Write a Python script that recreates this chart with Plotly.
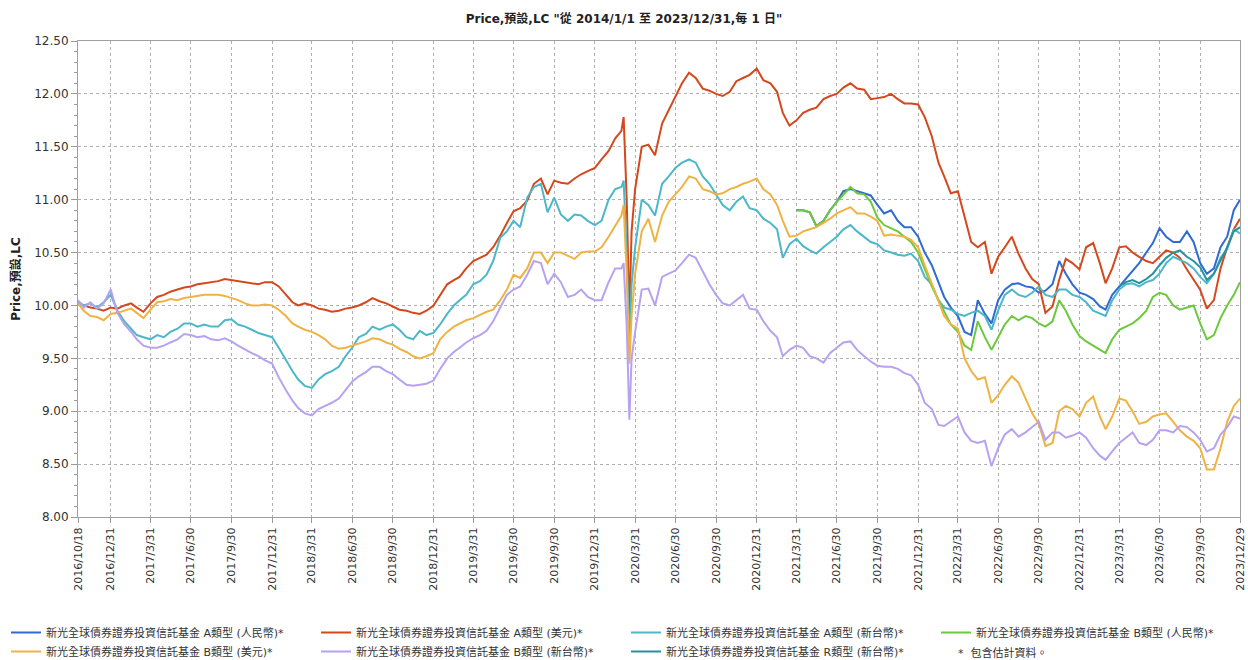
import plotly.graph_objects as go

# ---------------- data ----------------
dates = [
    "2016-10-18", "2016-10-31", "2016-11-15", "2016-11-30", "2016-12-15", "2016-12-31",
    "2017-01-15", "2017-01-31", "2017-02-15", "2017-02-28", "2017-03-15", "2017-03-31",
    "2017-04-15", "2017-04-30", "2017-05-15", "2017-05-31", "2017-06-15", "2017-06-30",
    "2017-07-15", "2017-07-31", "2017-08-15", "2017-08-31", "2017-09-15", "2017-09-30",
    "2017-10-15", "2017-10-31", "2017-11-15", "2017-11-30", "2017-12-15", "2017-12-31",
    "2018-01-15", "2018-01-31", "2018-02-15", "2018-02-28", "2018-03-15", "2018-03-31",
    "2018-04-15", "2018-04-30", "2018-05-15", "2018-05-31", "2018-06-15", "2018-06-30",
    "2018-07-15", "2018-07-31", "2018-08-15", "2018-08-31", "2018-09-15", "2018-09-30",
    "2018-10-15", "2018-10-31", "2018-11-15", "2018-11-30", "2018-12-15", "2018-12-31",
    "2019-01-15", "2019-01-31", "2019-02-15", "2019-02-28", "2019-03-15", "2019-03-31",
    "2019-04-15", "2019-04-30", "2019-05-15", "2019-05-31", "2019-06-15", "2019-06-30",
    "2019-07-15", "2019-07-31", "2019-08-15", "2019-08-31", "2019-09-15", "2019-09-30",
    "2019-10-15", "2019-10-31", "2019-11-15", "2019-11-30", "2019-12-15", "2019-12-31",
    "2020-01-15", "2020-01-31", "2020-02-15", "2020-02-29", "2020-03-05", "2020-03-12",
    "2020-03-18", "2020-03-23", "2020-03-31",
    "2020-04-15", "2020-04-30", "2020-05-15", "2020-05-31", "2020-06-15", "2020-06-30",
    "2020-07-15", "2020-07-31", "2020-08-15", "2020-08-31", "2020-09-15", "2020-09-30",
    "2020-10-15", "2020-10-31", "2020-11-15", "2020-11-30", "2020-12-15", "2020-12-31",
    "2021-01-15", "2021-01-31", "2021-02-15", "2021-02-28", "2021-03-15", "2021-03-31",
    "2021-04-15", "2021-04-30", "2021-05-15", "2021-05-31", "2021-06-15", "2021-06-30",
    "2021-07-15", "2021-07-31", "2021-08-15", "2021-08-31", "2021-09-15", "2021-09-30",
    "2021-10-15", "2021-10-31", "2021-11-15", "2021-11-30", "2021-12-15", "2021-12-31",
    "2022-01-15", "2022-01-31", "2022-02-15", "2022-02-28", "2022-03-15", "2022-03-31",
    "2022-04-15", "2022-04-30", "2022-05-15", "2022-05-31", "2022-06-15", "2022-06-30",
    "2022-07-15", "2022-07-31", "2022-08-15", "2022-08-31", "2022-09-15", "2022-09-30",
    "2022-10-15", "2022-10-31", "2022-11-15", "2022-11-30", "2022-12-15", "2022-12-31",
    "2023-01-15", "2023-01-31", "2023-02-15", "2023-02-28", "2023-03-15", "2023-03-31",
    "2023-04-15", "2023-04-30", "2023-05-15", "2023-05-31", "2023-06-15", "2023-06-30",
    "2023-07-15", "2023-07-31", "2023-08-15", "2023-08-31", "2023-09-15", "2023-09-30",
    "2023-10-15", "2023-10-31", "2023-11-15", "2023-11-30", "2023-12-15", "2023-12-29",
]

# A類型 (美元)
a_usd = [
    10.02, 10.00, 9.98, 9.97, 9.95, 9.98,
    9.97, 10.00, 10.02, 9.98, 9.94, 10.02, 10.08, 10.10, 10.13, 10.15, 10.17, 10.18,
    10.20, 10.21, 10.22, 10.23, 10.25, 10.24, 10.23, 10.22, 10.21, 10.20, 10.22, 10.22,
    10.18, 10.10, 10.03, 10.00, 10.02, 10.00, 9.97, 9.96, 9.94, 9.95, 9.97, 9.98,
    10.00, 10.03, 10.07, 10.04, 10.02, 9.99, 9.96, 9.95, 9.93, 9.92, 9.95, 10.00,
    10.10, 10.20, 10.24, 10.27, 10.35, 10.42, 10.45, 10.48, 10.55, 10.66, 10.78, 10.89,
    10.92, 10.99, 11.15, 11.20, 11.05, 11.18, 11.16, 11.15, 11.20, 11.24, 11.27, 11.30,
    11.38, 11.46, 11.58, 11.65, 11.78, 11.00, 9.90, 10.70, 11.10,
    11.50, 11.52, 11.42, 11.72, 11.85, 11.98, 12.10, 12.20, 12.15, 12.05, 12.03, 12.00,
    11.98, 12.02, 12.12, 12.15, 12.18, 12.24,
    12.13, 12.10, 12.02, 11.82, 11.70, 11.75, 11.82, 11.85, 11.87, 11.95, 11.98, 12.00,
    12.06, 12.10, 12.05, 12.04, 11.95, 11.96, 11.97, 12.00, 11.95, 11.91, 11.91, 11.90,
    11.78, 11.60, 11.35, 11.22, 11.06, 11.08, 10.85, 10.60, 10.55, 10.60, 10.30, 10.46,
    10.55, 10.65, 10.49, 10.35, 10.25, 10.20, 9.93, 9.99, 10.24, 10.44, 10.40, 10.34,
    10.55, 10.59, 10.40, 10.21, 10.35, 10.55, 10.56, 10.50, 10.46, 10.42, 10.40, 10.46,
    10.52, 10.50, 10.45, 10.34, 10.25, 10.15, 9.97, 10.05, 10.35, 10.55, 10.72, 10.82,
]

# B類型 (美元)
b_usd = [
    10.02, 9.95, 9.90, 9.89, 9.86, 9.92,
    9.93, 9.95, 9.97, 9.93, 9.88, 9.96, 10.03, 10.04, 10.06, 10.05, 10.07, 10.08,
    10.09, 10.10, 10.10, 10.10, 10.09, 10.07, 10.05, 10.02, 10.00, 10.00, 10.01, 10.00,
    9.96, 9.90, 9.83, 9.80, 9.77, 9.75, 9.72, 9.68, 9.62, 9.59, 9.60, 9.62,
    9.64, 9.66, 9.69, 9.68, 9.65, 9.63, 9.59, 9.56, 9.52, 9.50, 9.52, 9.55,
    9.68, 9.75, 9.80, 9.83, 9.86, 9.88, 9.91, 9.94, 9.96, 10.05, 10.15, 10.29,
    10.26, 10.35, 10.50, 10.50, 10.40, 10.50, 10.50, 10.47, 10.44, 10.50, 10.51, 10.51,
    10.55, 10.65, 10.75, 10.85, 10.95, 10.30, 9.45, 9.90, 10.30,
    10.70, 10.82, 10.60, 10.85, 10.98, 11.05, 11.12, 11.22, 11.20, 11.10, 11.08, 11.05,
    11.06, 11.10, 11.12, 11.15, 11.17, 11.20,
    11.10, 11.05, 10.95, 10.80, 10.65, 10.66, 10.70, 10.72, 10.74, 10.78, 10.82, 10.87,
    10.90, 10.93, 10.87, 10.87, 10.84, 10.80, 10.66, 10.67, 10.66, 10.65, 10.62, 10.55,
    10.38, 10.20, 10.05, 9.90, 9.82, 9.78, 9.50, 9.38, 9.30, 9.32, 9.08, 9.15,
    9.25, 9.33, 9.27, 9.12, 8.98, 8.88, 8.67, 8.70, 9.00, 9.05, 9.02, 8.95,
    9.08, 9.14, 8.95, 8.83, 8.95, 9.12, 9.10, 9.00, 8.88, 8.90, 8.95, 8.97,
    8.98, 8.90, 8.82, 8.76, 8.72, 8.65, 8.45, 8.45, 8.65, 8.90, 9.05, 9.12,
]

# A類型 (新台幣)
a_twd = [
    10.04, 10.00, 10.02, 9.98, 10.03, 10.10,
    9.95, 9.85, 9.78, 9.72, 9.70, 9.68, 9.72, 9.70, 9.75, 9.78, 9.83, 9.83,
    9.80, 9.82, 9.80, 9.80, 9.86, 9.87, 9.82, 9.80, 9.77, 9.74, 9.72, 9.70,
    9.60, 9.48, 9.38, 9.30, 9.24, 9.22, 9.30, 9.35, 9.38, 9.42, 9.52, 9.60,
    9.70, 9.73, 9.80, 9.77, 9.80, 9.82, 9.77, 9.70, 9.68, 9.76, 9.72, 9.74,
    9.82, 9.92, 10.00, 10.05, 10.10, 10.20, 10.23, 10.29, 10.42, 10.64, 10.70, 10.80,
    10.74, 11.02, 11.12, 11.15, 10.88, 11.02, 10.86, 10.80, 10.86, 10.85, 10.80, 10.76,
    10.80, 11.00, 11.10, 11.12, 11.18, 10.50, 9.60, 10.20, 10.55,
    11.00, 10.95, 10.85, 11.15, 11.22, 11.30, 11.35, 11.38, 11.35, 11.22, 11.15, 11.05,
    10.95, 10.90, 10.98, 11.03, 10.92, 10.90,
    10.82, 10.78, 10.72, 10.45, 10.58, 10.63, 10.56, 10.52, 10.49, 10.55, 10.60, 10.65,
    10.72, 10.76, 10.70, 10.65, 10.60, 10.58, 10.52, 10.50, 10.48, 10.47, 10.49, 10.42,
    10.27, 10.20, 10.05, 9.98, 9.96, 9.92, 9.90, 9.93, 9.95, 9.90, 9.77, 9.95,
    10.10, 10.15, 10.10, 10.08, 10.12, 10.18, 10.10, 10.08, 10.15, 10.15, 10.10, 10.08,
    10.03, 9.95, 9.92, 9.90, 10.05, 10.15, 10.20, 10.21, 10.18, 10.22, 10.24, 10.30,
    10.40, 10.46, 10.43, 10.40, 10.35, 10.27, 10.21, 10.30, 10.45, 10.53, 10.72, 10.68,
]

# B類型 (新台幣)
b_twd = [
    10.05, 9.98, 10.03, 9.97, 10.02, 10.15,
    9.93, 9.82, 9.75, 9.68, 9.62, 9.60, 9.60, 9.62, 9.65, 9.68, 9.73, 9.72,
    9.70, 9.71, 9.68, 9.67, 9.69, 9.66, 9.62, 9.58, 9.55, 9.52, 9.48, 9.45,
    9.32, 9.20, 9.10, 9.03, 8.98, 8.96, 9.02, 9.05, 9.08, 9.12, 9.20, 9.28,
    9.33, 9.37, 9.42, 9.42, 9.38, 9.35, 9.30, 9.25, 9.24, 9.25, 9.26, 9.29,
    9.40, 9.50, 9.56, 9.60, 9.65, 9.69, 9.72, 9.76, 9.85, 9.98, 10.10, 10.15,
    10.18, 10.29, 10.42, 10.40, 10.20, 10.30, 10.22, 10.08, 10.10, 10.15, 10.08, 10.05,
    10.05, 10.22, 10.35, 10.35, 10.40, 9.80, 8.92, 9.50, 9.75,
    10.15, 10.16, 10.00, 10.27, 10.30, 10.33, 10.40, 10.48, 10.45, 10.32, 10.20, 10.10,
    10.02, 10.00, 10.05, 10.10, 9.97, 9.96,
    9.85, 9.76, 9.70, 9.52, 9.58, 9.62, 9.60, 9.52, 9.50, 9.46, 9.55, 9.60,
    9.65, 9.66, 9.58, 9.52, 9.47, 9.43, 9.42, 9.42, 9.40, 9.36, 9.34, 9.25,
    9.08, 9.02, 8.87, 8.86, 8.90, 8.95, 8.80, 8.72, 8.70, 8.72, 8.48, 8.65,
    8.78, 8.83, 8.76, 8.80, 8.85, 8.90, 8.73, 8.80, 8.80, 8.75, 8.77, 8.80,
    8.75, 8.65, 8.58, 8.54, 8.62, 8.70, 8.75, 8.80, 8.70, 8.68, 8.73, 8.82,
    8.82, 8.80, 8.86, 8.85, 8.80, 8.73, 8.62, 8.65, 8.78, 8.85, 8.95, 8.93,
]

# RMB classes start on 2021-03-31
rmb_start = "2021-03-31"
a_rmb = [
    10.90, 10.90, 10.88, 10.75, 10.80, 10.90, 10.98, 11.08, 11.10, 11.08, 11.06, 11.04,
    10.95, 10.87, 10.90, 10.80, 10.74, 10.74, 10.65,
    10.50, 10.38, 10.22, 10.08, 9.98, 9.90, 9.75, 9.72, 10.05, 9.92, 9.83, 10.05,
    10.15, 10.20, 10.21, 10.18, 10.17, 10.12, 10.14, 10.20, 10.42, 10.30, 10.20, 10.12,
    10.10, 10.06, 9.99, 9.96, 10.10, 10.18, 10.25, 10.32, 10.40, 10.50, 10.59, 10.73,
    10.65, 10.60, 10.60, 10.70, 10.60, 10.40, 10.30, 10.35, 10.55, 10.65, 10.90, 11.00,
]
b_rmb = [
    10.90, 10.90, 10.88, 10.75, 10.80, 10.90, 10.98, 11.05, 11.12, 11.06, 11.05, 10.98,
    10.83, 10.76, 10.73, 10.70, 10.65, 10.60, 10.50,
    10.35, 10.18, 10.05, 9.95, 9.82, 9.75, 9.62, 9.58, 9.85, 9.70, 9.58, 9.70,
    9.82, 9.90, 9.86, 9.90, 9.88, 9.83, 9.80, 9.85, 10.05, 9.95, 9.82, 9.71,
    9.66, 9.62, 9.58, 9.55, 9.68, 9.77, 9.80, 9.83, 9.88, 9.95, 10.08, 10.12,
    10.10, 10.00, 9.96, 9.98, 10.00, 9.83, 9.68, 9.72, 9.88, 10.00, 10.10, 10.22,
]

# R類型 (新台幣) starts on 2023-03-31
r_start = "2023-03-31"
r_twd = [
    10.18, 10.22, 10.24, 10.21, 10.25, 10.30, 10.38, 10.45, 10.50, 10.52, 10.46, 10.42,
    10.36, 10.24, 10.30, 10.42, 10.55, 10.70, 10.74,
]

fund = "新光全球債券證券投資信託基金"
names = [
    fund + " A類型 (人民幣)*",
    fund + " A類型 (美元)*",
    fund + " A類型 (新台幣)*",
    fund + " B類型 (人民幣)*",
    fund + " B類型 (美元)*",
    fund + " B類型 (新台幣)*",
    fund + " R類型 (新台幣)*",
]
colors = ["#2f6bd3", "#d4481c", "#4cb7c8", "#6cc83c", "#efb345", "#b7a2f1", "#24939f"]

tick_dates = [
    "2016-10-18", "2016-12-31", "2017-03-31", "2017-06-30", "2017-09-30", "2017-12-31",
    "2018-03-31", "2018-06-30", "2018-09-30", "2018-12-31", "2019-03-31", "2019-06-30",
    "2019-09-30", "2019-12-31", "2020-03-31", "2020-06-30", "2020-09-30", "2020-12-31",
    "2021-03-31", "2021-06-30", "2021-09-30", "2021-12-31", "2022-03-31", "2022-06-30",
    "2022-09-30", "2022-12-31", "2023-03-31", "2023-06-30", "2023-09-30", "2023-12-29",
]
tick_labels = [
    "2016/10/18", "2016/12/31", "2017/3/31", "2017/6/30", "2017/9/30", "2017/12/31",
    "2018/3/31", "2018/6/30", "2018/9/30", "2018/12/31", "2019/3/31", "2019/6/30",
    "2019/9/30", "2019/12/31", "2020/3/31", "2020/6/30", "2020/9/30", "2020/12/31",
    "2021/3/31", "2021/6/30", "2021/9/30", "2021/12/31", "2022/3/31", "2022/6/30",
    "2022/9/30", "2022/12/31", "2023/3/31", "2023/6/30", "2023/9/30", "2023/12/29",
]
y_ticks = [8.0, 8.5, 9.0, 9.5, 10.0, 10.5, 11.0, 11.5, 12.0, 12.5]

# ---------------- figure ----------------
rmb_dates = dates[dates.index(rmb_start):]
r_dates = dates[dates.index(r_start):]

series = [
    (rmb_dates, a_rmb),
    (dates, a_usd),
    (dates, a_twd),
    (rmb_dates, b_rmb),
    (dates, b_usd),
    (dates, b_twd),
    (r_dates, r_twd),
]

fig = go.Figure()
for (xs, ys), name, col in zip(series, names, colors):
    fig.add_trace(go.Scatter(
        x=xs, y=ys, name=name, mode="lines",
        line=dict(color=col, width=2),
    ))

FONT = "DejaVu Sans, Noto Sans CJK TC, sans-serif"

L, R, T, B = 78, 8, 41, 143
PW = 1248 - L - R
PH = 660 - T - B


def px_x(px):
    return (px - L) / PW


def px_y(py):
    return (660 - B - py) / PH


fig.update_layout(
    width=1248, height=660,
    margin=dict(l=L, r=R, t=T, b=B, autoexpand=False),
    paper_bgcolor="white", plot_bgcolor="white",
    font=dict(family=FONT, color="#333", size=11),
    title=dict(
        text='<b>Price,預設,LC "從 2014/1/1 至 2023/12/31,每 1 日"</b>',
        x=0.5, xanchor="center", xref="container",
        y=0.972, yanchor="middle", yref="container",
        font=dict(size=12, color="#222", family=FONT),
    ),
    showlegend=True,
    legend=dict(
        orientation="h",
        xref="paper", yref="paper",
        x=px_x(6), y=px_y(618), xanchor="left", yanchor="top",
        entrywidth=265, entrywidthmode="pixels",
        itemwidth=30,
        font=dict(size=11, color="#333", family=FONT),
        bgcolor="rgba(0,0,0,0)",
        traceorder="normal",
    ),
    annotations=[dict(
        text="*  包含估計資料。",
        xref="paper", yref="paper",
        x=px_x(956), y=px_y(653),
        xanchor="left", yanchor="middle", showarrow=False,
        font=dict(size=11, color="#333", family=FONT),
    )],
)

fig.update_xaxes(
    type="date",
    range=["2016-10-18", "2023-12-29"],
    tickmode="array", tickvals=tick_dates, ticktext=tick_labels,
    tickangle=-90,
    tickfont=dict(size=11, color="#333", family=FONT),
    ticks="outside", ticklen=5, tickcolor="#999",
    showgrid=True, gridcolor="#b0b0b0", griddash="dot", gridwidth=1,
    showline=True, linecolor="#a0a0a0", linewidth=1, mirror=True,
    zeroline=False, automargin=False,
)
fig.update_yaxes(
    range=[8.0, 12.5],
    tickmode="array", tickvals=y_ticks, ticktext=[f"{v:.2f}" for v in y_ticks],
    tickfont=dict(size=12, color="#333", family=FONT),
    ticks="outside", ticklen=6, tickcolor="#999",
    minor=dict(dtick=0.1, ticks="outside", ticklen=3, tickcolor="#999", showgrid=False),
    showgrid=True, gridcolor="#b0b0b0", griddash="dot", gridwidth=1,
    showline=True, linecolor="#a0a0a0", linewidth=1, mirror=True,
    zeroline=False, automargin=False,
    title=dict(text="<b>Price,預設,LC</b>", standoff=11,
               font=dict(size=12, color="#222", family=FONT)),
)

fig.write_html(
    "out.html",
    config={"displayModeBar": False},
    post_script="document.body.style.margin='0';document.body.style.overflow='hidden';",
)
